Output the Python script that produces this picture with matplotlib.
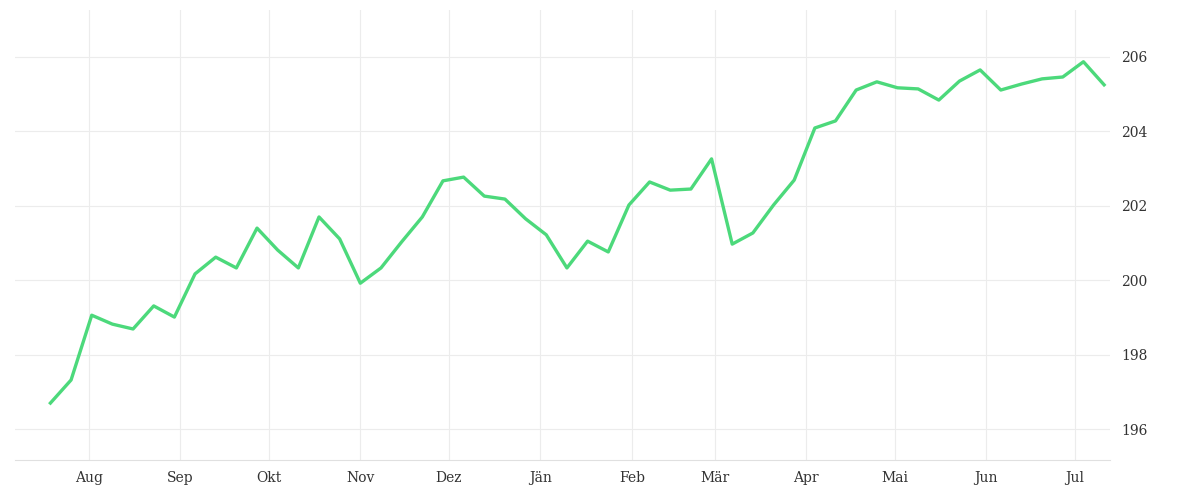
import numpy as np
import pandas as pd
import matplotlib.pyplot as plt
import matplotlib.dates as mdates
from matplotlib.ticker import FuncFormatter

# weekly values
start = "2022-07-19"
values = [196.70, 197.32, 199.06, 198.82, 198.69, 199.31, 199.01, 200.17, 200.62, 200.33,
          201.40, 200.81, 200.33, 201.70, 201.11, 199.92, 200.33, 201.03, 201.70, 202.67,
          202.77, 202.26, 202.18, 201.65, 201.22, 200.33, 201.05, 200.76, 202.02, 202.64,
          202.42, 202.45, 203.26, 200.97, 201.27, 202.02, 202.69, 204.09, 204.28, 205.11,
          205.33, 205.17, 205.14, 204.84, 205.35, 205.65, 205.11, 205.27, 205.41, 205.46,
          205.87, 205.25]
dates = pd.date_range(start, periods=len(values), freq="7D")
month_names = ["Jän", "Feb", "Mär", "Apr", "Mai", "Jun", "Jul", "Aug", "Sep", "Okt", "Nov", "Dez"]
yticks = [196, 198, 200, 202, 204, 206]

fig = plt.figure(figsize=(12, 5), dpi=100)
ax = fig.add_axes([0.0125, 0.08, 0.9125, 0.90])
ax.plot(dates, values, color="#4cd97b", lw=2.4, solid_joinstyle="round")

ax.set_ylim(195.17, 207.26)
ax.set_xlim(pd.Timestamp("2022-07-07"), pd.Timestamp("2023-07-13"))
ax.yaxis.tick_right()
ax.set_yticks(yticks)
ax.xaxis.set_major_locator(mdates.MonthLocator())
ax.xaxis.set_major_formatter(FuncFormatter(lambda x, p: month_names[mdates.num2date(x).month - 1]))
ax.grid(True, color="#ececec", lw=0.8)
for s in ["top", "right", "left"]:
    ax.spines[s].set_visible(False)
ax.spines["bottom"].set_color("#e0e0e0")
ax.tick_params(length=0, labelsize=10, colors="#333333", pad=8)
for lab in ax.get_xticklabels() + ax.get_yticklabels():
    lab.set_family("DejaVu Serif")

fig.savefig("out.png")
